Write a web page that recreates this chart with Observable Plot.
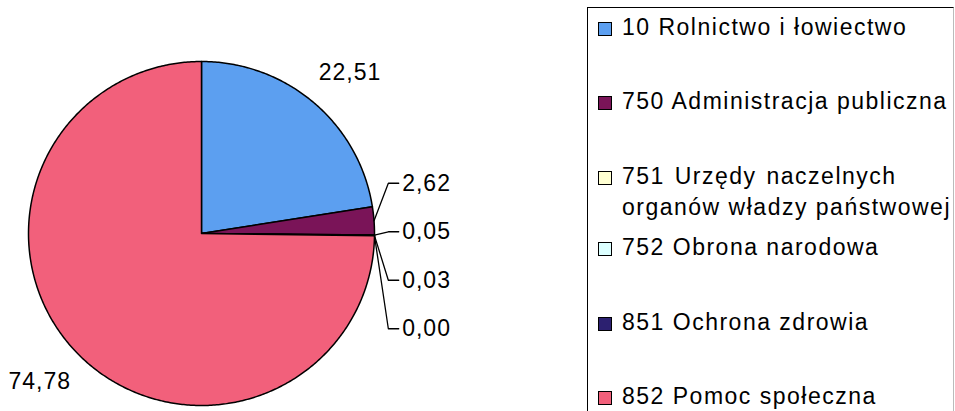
<!DOCTYPE html>
<html><head><meta charset="utf-8">
<script src="https://cdn.jsdelivr.net/npm/d3@7"></script>
<script src="https://cdn.jsdelivr.net/npm/@observablehq/plot@0.6"></script>
<style>
body{margin:0;background:#fff;}
#wrap{position:relative;width:955px;height:411px;overflow:hidden;font-family:"Liberation Sans",Arial,sans-serif;}
#legend{position:absolute;left:587px;top:7px;width:365px;height:430px;border:1.6px solid #000;border-right:1px solid #bbb;background:#fff;}
.row{position:absolute;left:0;font-size:23px;line-height:31px;letter-spacing:1.5px;color:#000;}
.sw{position:absolute;left:10px;top:10px;width:12px;height:12px;border:1.2px solid #000;}
.txt{position:absolute;left:34px;white-space:nowrap;}
</style></head>
<body><div id="wrap"></div>
<script>
// ---- data ----
const codes  = ["10", "750", "751", "752", "851", "852"];
const names  = ["Rolnictwo i łowiectwo", "Administracja publiczna", "Urzędy naczelnych", "Obrona narodowa", "Ochrona zdrowia", "Pomoc społeczna"];
const names2 = ["", "", "organów władzy państwowej", "", "", ""];
const values = [22.51, 2.62, 0.05, 0.03, 0.00, 74.78];
const labels = ["22,51", "2,62", "0,05", "0,03", "0,00", "74,78"];
const colors = ["#5c9ff0", "#7a1458", "#ffffd2", "#dcffff", "#2c2070", "#f2607b"];

// ---- pie geometry (computed from values via d3.pie) ----
const arcs = d3.pie().sort(null).value(d => d)(values);
const pts = [];
arcs.forEach((a, k) => {
  pts.push({x: 0, y: 0, k});
  const n = Math.max(2, Math.ceil((a.endAngle - a.startAngle) / 0.01));
  for (let j = 0; j <= n; j++) {
    const t = a.startAngle + (a.endAngle - a.startAngle) * j / n;
    pts.push({x: Math.sin(t), y: Math.cos(t), k});
  }
  pts.push({x: 0, y: 0, k});
});

const mid = a => (a.startAngle + a.endAngle) / 2;
const big = arcs.map((a, i) => ({a, i})).filter(d => values[d.i] >= 5);
const small = arcs.map((a, i) => ({a, i})).filter(d => values[d.i] < 5);

const labelR = 1.27, labelTurn = 0.035;
const bigLabels = big.map(({a, i}) => ({x: labelR * Math.sin(mid(a) + labelTurn), y: labelR * Math.cos(mid(a) + labelTurn), text: labels[i]}));
const anchorY = Math.cos(mid(arcs[2])) + 0.02;
const step = 0.282;
const smallLabels = small.map(({a, i}, j) => ({x: 1.16, y: anchorY - (j - 1) * step, text: labels[i], i, a}));
const leaders = [];
smallLabels.forEach(d => {
  leaders.push({x: Math.sin(mid(d.a)), y: Math.cos(mid(d.a)), k: d.i});
  leaders.push({x: 1.08, y: d.y, k: d.i});
  leaders.push({x: 1.14, y: d.y, k: d.i});
});

const chart = Plot.plot({
  width: 955, height: 411, margin: 0,
  x: {domain: [-1, 1], range: [28, 374], axis: null},
  y: {domain: [-1, 1], range: [405, 61], axis: null},
  color: {type: "identity"},
  style: {background: "#fff"},
  marks: [
    Plot.line(pts, {x: "x", y: "y", z: "k", fill: d => colors[d.k], stroke: "#000", strokeWidth: 1.5, curve: "linear", strokeLinejoin: "round"}),
    Plot.line(leaders, {x: "x", y: "y", z: "k", stroke: "#000", strokeWidth: 1.3, curve: "linear"}),
    Plot.text(bigLabels, {x: "x", y: "y", text: "text", fontSize: 23, fontFamily: "Liberation Sans, Arial, sans-serif", fill: "#000"}),
    Plot.text(smallLabels, {x: "x", y: "y", text: "text", textAnchor: "start", fontSize: 23, fontFamily: "Liberation Sans, Arial, sans-serif", fill: "#000"})
  ]
});
d3.select(chart).selectAll("text").attr("letter-spacing", "1px");
const wrap = document.getElementById("wrap");
wrap.appendChild(chart);

// ---- legend (right side box) ----
const rowCenters = [28, 102, 177, 248, 323, 397];
const legend = document.createElement("div");
legend.id = "legend";
codes.forEach((c, i) => {
  const row = document.createElement("div");
  row.className = "row";
  row.style.top = (rowCenters[i] - 15.5 - 8.6) + "px";
  row.style.width = "365px";
  const sw = document.createElement("div");
  sw.className = "sw";
  sw.style.background = colors[i];
  const t = document.createElement("div");
  t.className = "txt";
  const l1 = document.createElement("div");
  l1.textContent = c + " " + names[i];
  if (names2[i]) l1.style.wordSpacing = "2px";
  t.appendChild(l1);
  if (names2[i]) {
    const l2 = document.createElement("div");
    l2.textContent = names2[i];
    t.appendChild(l2);
  }
  row.appendChild(sw);
  row.appendChild(t);
  legend.appendChild(row);
});
wrap.appendChild(legend);
</script>
</body></html>
